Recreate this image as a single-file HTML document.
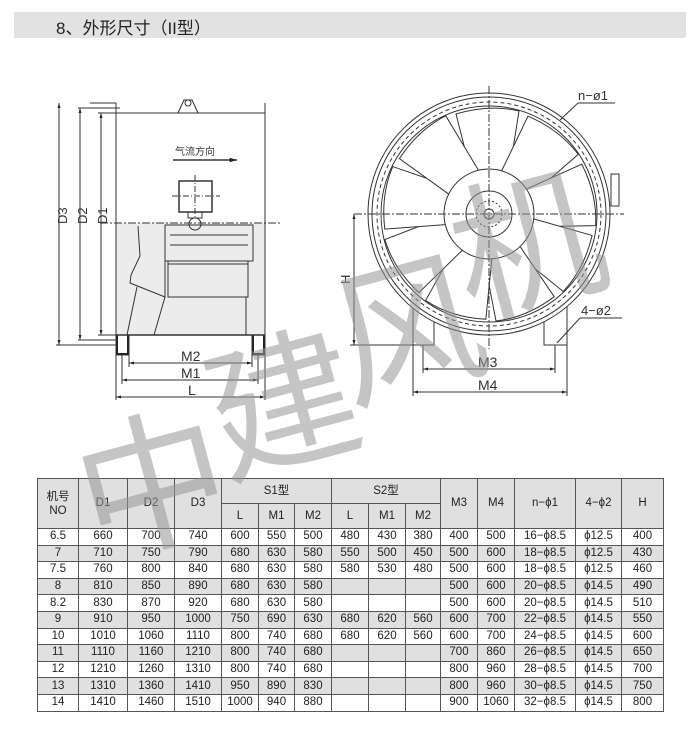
<!DOCTYPE html>
<html><head><meta charset="utf-8"><style>
body{margin:0;width:700px;height:737px;background:#fff;position:relative;overflow:hidden;font-family:"Liberation Sans","Noto Sans CJK SC",sans-serif}
.title{position:absolute;left:14px;top:12px;width:672px;height:26px;background:#e2e2e2}
.title span{position:absolute;left:42px;top:2px;font-size:17px;color:#222}
table{position:absolute;left:37px;top:478px;border-collapse:collapse;table-layout:fixed;font-size:11.5px;color:#222}
td{border:1px solid #555;text-align:center;padding:0;height:15.6px;line-height:15px}
tr.g td{background:#e0e0e0}
thead td{background:#e0e0e0}
svg{position:absolute;left:0;top:0}
.wm{position:absolute;font-family:"Noto Sans CJK SC",sans-serif;color:rgba(150,150,150,0.55);font-size:150px;line-height:1}
</style></head><body>
<div class="title"><span>8、外形尺寸（II型）</span></div>

<svg width="700" height="470" viewBox="0 0 700 470" fill="none" stroke="#333" stroke-width="1">
<defs>
<marker id="a" viewBox="0 0 10 10" refX="10" refY="5" markerWidth="7" markerHeight="5" orient="auto-start-reverse"><path d="M0,2 L10,5 L0,8z" fill="#222" stroke="none"/></marker>
</defs>
<!-- left view -->
<rect x="116" y="223" width="149" height="112" fill="#ececec" stroke="none"/>
<rect x="116" y="113" width="149" height="222"/>
<line x1="116" y1="103" x2="116" y2="113"/>
<line x1="265" y1="103" x2="265" y2="113"/>
<path d="M178 113 L184 100 L192 100 L198 113" />
<circle cx="188" cy="103" r="3"/>
<line x1="90" y1="103" x2="116" y2="103"/>
<line x1="78" y1="108" x2="120" y2="108"/>
<line x1="98" y1="113" x2="116" y2="113"/>
<line x1="56" y1="345" x2="116" y2="345"/>
<line x1="78" y1="340" x2="116" y2="340"/>
<line x1="98" y1="335" x2="116" y2="335"/>
<line x1="59" y1="103" x2="59" y2="345" marker-start="url(#a)" marker-end="url(#a)"/>
<line x1="80" y1="108" x2="80" y2="340" marker-start="url(#a)" marker-end="url(#a)"/>
<line x1="101" y1="113" x2="101" y2="335" marker-start="url(#a)" marker-end="url(#a)"/>
<text x="0" y="0" transform="translate(67,224) rotate(-90)" font-size="13" fill="#333" stroke="none" font-family="Liberation Sans">D3</text>
<text x="0" y="0" transform="translate(87,224) rotate(-90)" font-size="13" fill="#333" stroke="none" font-family="Liberation Sans">D2</text>
<text x="0" y="0" transform="translate(107,224) rotate(-90)" font-size="13" fill="#333" stroke="none" font-family="Liberation Sans">D1</text>
<text x="175" y="155" font-size="10" fill="#333" stroke="none" font-family="Noto Sans CJK SC">气流方向</text>
<line x1="173" y1="160" x2="237" y2="160" stroke-width="1.5" marker-end="url(#a)"/>
<rect x="179" y="181" width="33" height="31" stroke-width="1.5"/>
<line x1="195" y1="175" x2="195" y2="218" stroke-dasharray="6,2,1,2"/>
<line x1="172" y1="196" x2="220" y2="196" stroke-dasharray="6,2,1,2"/>
<rect x="188" y="212" width="14" height="6"/>
<circle cx="195" cy="224" r="6"/>
<line x1="100" y1="223" x2="280" y2="223" stroke-dasharray="8,2,2,2"/>
<rect x="165" y="225" width="88" height="36"/>
<line x1="170" y1="235" x2="248" y2="235"/><line x1="170" y1="245" x2="248" y2="245"/>
<rect x="168" y="261" width="80" height="3"/>
<rect x="168" y="264" width="80" height="33"/>
<path d="M138 226 L140 256 L131 275 L130 283 L165 297 L165 226"/>
<path d="M137 287 L127 335 L154 335 L165 297"/>
<line x1="246" y1="297" x2="246" y2="335"/>
<rect x="116" y="335" width="13" height="20" fill="#222"/>
<rect x="118" y="335" width="9" height="18" fill="#fff" stroke="none"/>
<rect x="252" y="335" width="13" height="20" fill="#222"/>
<rect x="254" y="335" width="9" height="18" fill="#fff" stroke="none"/>
<line x1="116" y1="335" x2="265" y2="335" stroke-width="1.5"/>
<line x1="129" y1="355" x2="129" y2="367"/><line x1="252" y1="355" x2="252" y2="367"/>
<line x1="122" y1="355" x2="122" y2="384"/><line x1="258" y1="355" x2="258" y2="384"/>
<line x1="116" y1="355" x2="116" y2="400"/><line x1="265" y1="355" x2="265" y2="400"/>
<line x1="129" y1="363" x2="252" y2="363" marker-start="url(#a)" marker-end="url(#a)"/>
<line x1="122" y1="380" x2="258" y2="380" marker-start="url(#a)" marker-end="url(#a)"/>
<line x1="116" y1="397" x2="265" y2="397" marker-start="url(#a)" marker-end="url(#a)"/>
<text x="181" y="361" font-size="14" fill="#333" stroke="none">M2</text>
<text x="181" y="378" font-size="14" fill="#333" stroke="none">M1</text>
<text x="188" y="395" font-size="14" fill="#333" stroke="none">L</text>

<!-- right view -->
<path d="M413 290 L413 345 L434 345 L434 290" fill="#fff"/>
<path d="M544 290 L544 345 L567 345 L567 290" fill="#fff"/>
<g transform="translate(489,214)">
<circle r="121" fill="#fff"/><circle r="117"/><circle r="112" stroke-dasharray="4,3"/><circle r="108"/>
<g id="bl"><path d="M-18,-41 L-33,-100 Q0,-110 30,-103 L20,-40 Z" fill="#fff"/></g>
<use href="#bl" transform="rotate(40)"/><use href="#bl" transform="rotate(80)"/>
<use href="#bl" transform="rotate(120)"/><use href="#bl" transform="rotate(160)"/>
<use href="#bl" transform="rotate(200)"/><use href="#bl" transform="rotate(240)"/>
<use href="#bl" transform="rotate(280)"/><use href="#bl" transform="rotate(320)"/>
<circle r="45" fill="#fff"/><circle r="23"/><circle r="13" stroke-dasharray="2,2"/><circle r="5"/>
<line x1="-135" y1="0" x2="135" y2="0" stroke-dasharray="8,2,2,2"/>
<line x1="0" y1="-128" x2="0" y2="135" stroke-dasharray="8,2,2,2"/>
</g>
<rect x="611" y="174" width="8" height="32"/>
<line x1="354" y1="214" x2="354" y2="345" marker-start="url(#a)" marker-end="url(#a)"/>
<line x1="350" y1="345" x2="434" y2="345"/>
<text x="0" y="0" transform="translate(350,284) rotate(-90)" font-size="13" fill="#333" stroke="none">H</text>
<line x1="423" y1="345" x2="423" y2="373"/><line x1="555" y1="345" x2="555" y2="373"/>
<line x1="413" y1="345" x2="413" y2="396"/><line x1="567" y1="345" x2="567" y2="396"/>
<line x1="423" y1="369" x2="555" y2="369" marker-start="url(#a)" marker-end="url(#a)"/>
<line x1="413" y1="392" x2="567" y2="392" marker-start="url(#a)" marker-end="url(#a)"/>
<text x="478" y="367" font-size="14" fill="#333" stroke="none">M3</text>
<text x="478" y="390" font-size="14" fill="#333" stroke="none">M4</text>
<line x1="560" y1="120" x2="578" y2="103"/><line x1="578" y1="103" x2="615" y2="103"/>
<text x="578" y="100" font-size="13" fill="#333" stroke="none">n−ø1</text>
<line x1="557" y1="343" x2="580" y2="318"/><line x1="580" y1="318" x2="622" y2="318"/>
<text x="581" y="315" font-size="13" fill="#333" stroke="none">4−ø2</text>
</svg>

<table>
<colgroup><col style="width:41px"><col style="width:49px"><col style="width:47px"><col style="width:47px"><col style="width:37px"><col style="width:36px"><col style="width:37px"><col style="width:37px"><col style="width:37px"><col style="width:35px"><col style="width:37px"><col style="width:37px"><col style="width:61px"><col style="width:46px"><col style="width:42px"></colgroup>
<thead>
<tr><td rowspan="2" style="height:48px;line-height:14px">机号<br>NO</td><td rowspan="2">D1</td><td rowspan="2">D2</td><td rowspan="2">D3</td><td colspan="3" style="height:24px">S1型</td><td colspan="3">S2型</td><td rowspan="2">M3</td><td rowspan="2">M4</td><td rowspan="2">n−ϕ1</td><td rowspan="2">4−ϕ2</td><td rowspan="2">H</td></tr>
<tr><td style="height:24px">L</td><td>M1</td><td>M2</td><td>L</td><td>M1</td><td>M2</td></tr>
</thead>
<tr><td>6.5</td><td>660</td><td>700</td><td>740</td><td>600</td><td>550</td><td>500</td><td>480</td><td>430</td><td>380</td><td>400</td><td>500</td><td>16−ϕ8.5</td><td>ϕ12.5</td><td>400</td></tr>
<tr class="g"><td>7</td><td>710</td><td>750</td><td>790</td><td>680</td><td>630</td><td>580</td><td>550</td><td>500</td><td>450</td><td>500</td><td>600</td><td>18−ϕ8.5</td><td>ϕ12.5</td><td>430</td></tr>
<tr><td>7.5</td><td>760</td><td>800</td><td>840</td><td>680</td><td>630</td><td>580</td><td>580</td><td>530</td><td>480</td><td>500</td><td>600</td><td>18−ϕ8.5</td><td>ϕ12.5</td><td>460</td></tr>
<tr class="g"><td>8</td><td>810</td><td>850</td><td>890</td><td>680</td><td>630</td><td>580</td><td></td><td></td><td></td><td>500</td><td>600</td><td>20−ϕ8.5</td><td>ϕ14.5</td><td>490</td></tr>
<tr><td>8.2</td><td>830</td><td>870</td><td>920</td><td>680</td><td>630</td><td>580</td><td></td><td></td><td></td><td>500</td><td>600</td><td>20−ϕ8.5</td><td>ϕ14.5</td><td>510</td></tr>
<tr class="g"><td>9</td><td>910</td><td>950</td><td>1000</td><td>750</td><td>690</td><td>630</td><td>680</td><td>620</td><td>560</td><td>600</td><td>700</td><td>22−ϕ8.5</td><td>ϕ14.5</td><td>550</td></tr>
<tr><td>10</td><td>1010</td><td>1060</td><td>1110</td><td>800</td><td>740</td><td>680</td><td>680</td><td>620</td><td>560</td><td>600</td><td>700</td><td>24−ϕ8.5</td><td>ϕ14.5</td><td>600</td></tr>
<tr class="g"><td>11</td><td>1110</td><td>1160</td><td>1210</td><td>800</td><td>740</td><td>680</td><td></td><td></td><td></td><td>700</td><td>860</td><td>26−ϕ8.5</td><td>ϕ14.5</td><td>650</td></tr>
<tr><td>12</td><td>1210</td><td>1260</td><td>1310</td><td>800</td><td>740</td><td>680</td><td></td><td></td><td></td><td>800</td><td>960</td><td>28−ϕ8.5</td><td>ϕ14.5</td><td>700</td></tr>
<tr class="g"><td>13</td><td>1310</td><td>1360</td><td>1410</td><td>950</td><td>890</td><td>830</td><td></td><td></td><td></td><td>800</td><td>960</td><td>30−ϕ8.5</td><td>ϕ14.5</td><td>750</td></tr>
<tr><td>14</td><td>1410</td><td>1460</td><td>1510</td><td>1000</td><td>940</td><td>880</td><td></td><td></td><td></td><td>900</td><td>1060</td><td>32−ϕ8.5</td><td>ϕ14.5</td><td>800</td></tr>
</table>

<div class="wm" style="left:75px;top:400px;transform:rotate(-15deg)">中</div>
<div class="wm" style="left:205px;top:320px;transform:rotate(-15deg)">建</div>
<div class="wm" style="left:330px;top:245px;transform:rotate(-15deg)">风</div>
<div class="wm" style="left:450px;top:160px;transform:rotate(-15deg)">机</div>
</body></html>
